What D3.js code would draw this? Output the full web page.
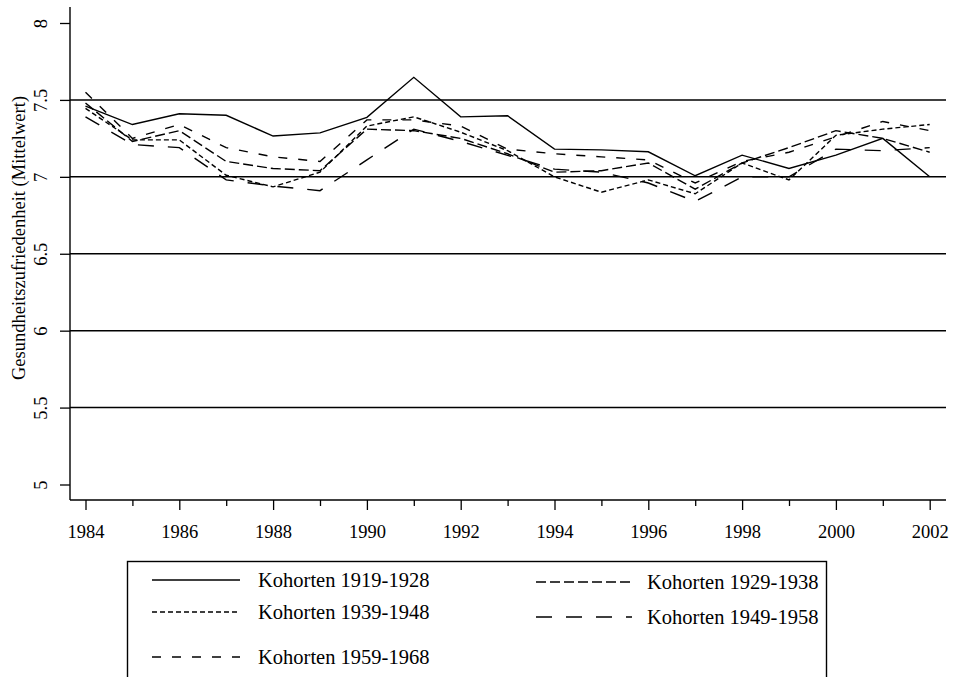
<!DOCTYPE html>
<html>
<head>
<meta charset="utf-8">
<script src="https://cdn.jsdelivr.net/npm/d3@7"></script>
<style>
  html, body { margin: 0; padding: 0; background: #fff; }
  svg { display: block; }
  text { font-family: "Liberation Serif", "Times New Roman", serif; fill: #000; }
</style>
</head>
<body>
<svg id="chart" width="956" height="677"></svg>
<script>
// ---- data ----
const years = [1984,1985,1986,1987,1988,1989,1990,1991,1992,1993,1994,1995,1996,1997,1998,1999,2000,2001,2002];
const xTickLabels = ["1984","1986","1988","1990","1992","1994","1996","1998","2000","2002"];
const yTicks = [5, 5.5, 6, 6.5, 7, 7.5, 8];
const yTickLabels = ["5","5.5","6","6.5","7","7.5","8"];
const gridValues = [5.5, 6, 6.5, 7, 7.5];
const seriesNames = ["Kohorten 1919-1928","Kohorten 1929-1938","Kohorten 1939-1948","Kohorten 1949-1958","Kohorten 1959-1968"];
const k1919 = [7.46,7.34,7.41,7.40,7.265,7.286,7.387,7.647,7.39,7.397,7.18,7.175,7.163,7.007,7.141,7.054,7.141,7.25,7.00];
const k1929 = [7.48,7.23,7.30,7.10,7.054,7.04,7.31,7.30,7.25,7.15,7.03,7.04,7.09,6.92,7.09,7.19,7.30,7.25,7.16];
const k1939 = [7.445,7.24,7.24,7.01,6.935,7.03,7.33,7.39,7.29,7.17,7.00,6.90,6.98,6.89,7.09,6.98,7.27,7.31,7.34];
const k1949 = [7.39,7.21,7.19,6.98,6.94,6.91,7.11,7.31,7.23,7.14,7.05,7.03,6.96,6.84,7.00,7.00,7.18,7.17,7.19];
const k1959 = [7.55,7.25,7.34,7.19,7.13,7.10,7.37,7.37,7.33,7.18,7.15,7.13,7.11,6.96,7.10,7.16,7.26,7.36,7.30];
const seriesValues = [k1919, k1929, k1939, k1949, k1959];
const dashes = [null, "10,4", "5,3", "16,14", "9,11"];
const axisTitle = "Gesundheitszufriedenheit (Mittelwert)";

// ---- layout ----
const svg = d3.select("#chart");
const pLeft = 70, pRight = 946, pTop = 7, pBottom = 500;
const x = d3.scaleLinear().domain([1984, 2002]).range([85.5, 929.7]);
const y = d3.scaleLinear().domain([5, 8]).range([484.5, 23]);

// grid lines
svg.append("g").selectAll("line").data(gridValues).join("line")
  .attr("x1", pLeft).attr("x2", pRight)
  .attr("y1", d => y(d)).attr("y2", d => y(d))
  .attr("stroke", "#000").attr("stroke-width", 1.5);

// y axis
const yAxis = d3.axisLeft(y).tickValues(yTicks)
  .tickFormat((d, i) => yTickLabels[i]).tickSize(10).tickSizeOuter(0);
const gy = svg.append("g").attr("transform", `translate(${pLeft},0)`).call(yAxis);
gy.select(".domain").remove();
gy.selectAll(".tick line").attr("stroke", "#000").attr("stroke-width", 1.3);
gy.selectAll(".tick text")
  .attr("font-size", 18.5)
  .attr("x", 0).attr("y", 0).attr("dy", null)
  .attr("text-anchor", "middle")
  .attr("transform", "translate(-23,0) rotate(-90)");
svg.append("line").attr("x1", pLeft).attr("x2", pLeft).attr("y1", pTop).attr("y2", pBottom)
  .attr("stroke", "#000").attr("stroke-width", 1.4);

// x axis
const xAxis = d3.axisBottom(x).tickValues(years)
  .tickFormat(d => xTickLabels.includes(String(d)) ? String(d) : "")
  .tickSize(10).tickSizeOuter(0);
const gx = svg.append("g").attr("transform", `translate(0,${pBottom})`).call(xAxis);
gx.select(".domain").remove();
gx.selectAll(".tick line").attr("stroke", "#000").attr("stroke-width", 1.3)
  .attr("y2", d => xTickLabels.includes(String(d)) ? 10 : 6);
gx.selectAll(".tick text").attr("font-size", 18.5).attr("y", 38).attr("dy", null);
svg.append("line").attr("x1", pLeft).attr("x2", pRight).attr("y1", pBottom).attr("y2", pBottom)
  .attr("stroke", "#000").attr("stroke-width", 1.4);

// axis title
svg.append("text").text(axisTitle)
  .attr("font-size", 18.5).attr("text-anchor", "middle")
  .attr("transform", "translate(25,238) rotate(-90)");

// series lines
const line = d3.line().x((d, i) => x(years[i])).y(d => y(d));
svg.append("g").selectAll("path").data(seriesValues).join("path")
  .attr("d", d => line(d))
  .attr("fill", "none").attr("stroke", "#000").attr("stroke-width", 1.4)
  .attr("stroke-dasharray", (d, i) => dashes[i]);

// legend
const lg = svg.append("g");
lg.append("rect").attr("x", 127.5).attr("y", 561.5).attr("width", 699).attr("height", 140)
  .attr("fill", "none").attr("stroke", "#000").attr("stroke-width", 1.4);
const legendPos = [
  {sx: 152, ex: 240, tx: 258, cy: 580},
  {sx: 536, ex: 632, tx: 647, cy: 582},
  {sx: 152, ex: 240, tx: 258, cy: 612},
  {sx: 536, ex: 632, tx: 647, cy: 617},
  {sx: 152, ex: 240, tx: 258, cy: 657}
];
seriesNames.forEach((name, i) => {
  const p = legendPos[i];
  lg.append("line").attr("x1", p.sx).attr("x2", p.ex).attr("y1", p.cy).attr("y2", p.cy)
    .attr("stroke", "#000").attr("stroke-width", 1.4).attr("stroke-dasharray", dashes[i]);
  lg.append("text").text(name).attr("x", p.tx).attr("y", p.cy + 7).attr("font-size", 20.5);
});
</script>
</body>
</html>
